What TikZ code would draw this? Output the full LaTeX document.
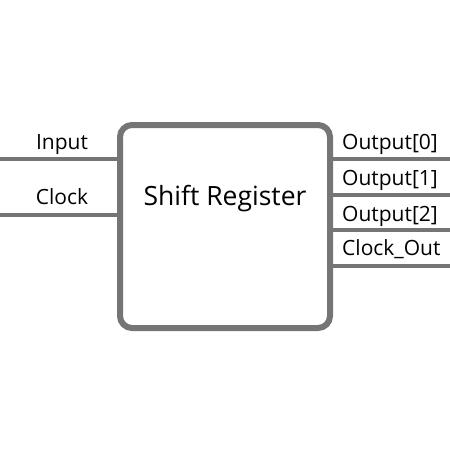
\documentclass[tikz,border=0pt]{standalone}
\usepackage{fontspec}
\setmainfont{Open Sans}
\usetikzlibrary{positioning,backgrounds}
\definecolor{cWire}{RGB}{117,117,117}
\tikzset{
  block/.style  ={draw=cWire,line width=6pt,rounded corners=12pt,fill=white,
                  minimum width=210pt,minimum height=203pt,inner sep=0pt},
  wire/.style   ={draw=cWire,line width=4pt},
  lbl/.style    ={font=\fontsize{21}{25}\selectfont,inner sep=0pt,anchor=base},
  olbl/.style   ={lbl,anchor=base west},
}
\begin{document}
\begin{tikzpicture}[x=1pt,y=-1pt]
\useasboundingbox (0,0) rectangle (450,450);

% ports on the edges of the picture
\coordinate (inp) at (0,159);
\coordinate (clk) at (0,215);
\coordinate (out0) at (450,159);
\coordinate (out1) at (450,195);
\coordinate (out2) at (450,230);
\coordinate (cko) at (450,266);

\node[block] (reg) at (225,226.5) {};
\node[lbl,font=\fontsize{26.5}{31}\selectfont] (title) at (225,205) {Shift Register};

\begin{scope}[on background layer]
\draw[wire] (inp) -- (inp -| reg.west);
\draw[wire] (clk) -- (clk -| reg.west);
\draw[wire] (reg.east |- out0) -- (out0);
\draw[wire] (reg.east |- out1) -- (out1);
\draw[wire] (reg.east |- out2) -- (out2);
\draw[wire] (reg.east |- cko) -- (cko);
\end{scope}

\node[lbl] (inplbl) at (62,149) {Input};
\node[lbl] (clklbl) at (62,204) {Clock};
\node[olbl] (out0lbl) at (342,149) {Output[0]};
\node[olbl] (out1lbl) at (342,185) {Output[1]};
\node[olbl] (out2lbl) at (342,221) {Output[2]};
\node[olbl] (ckolbl) at (342,255) {Clock\_Out};

\end{tikzpicture}
\end{document}
